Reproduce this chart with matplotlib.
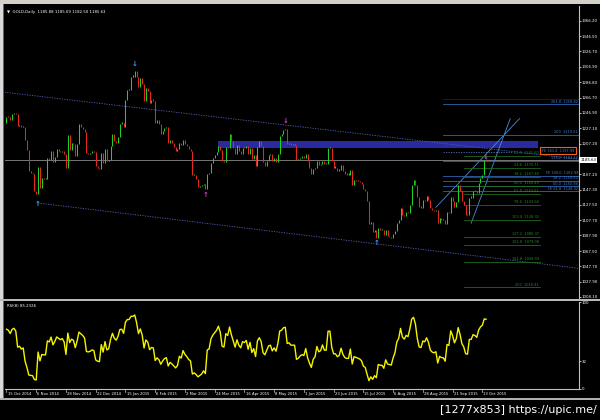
import numpy as np
import matplotlib
matplotlib.use("Agg")
import matplotlib.pyplot as plt
from matplotlib.patches import Rectangle

# GOLD daily closes, 15 Oct 2014 .. 15 Oct 2015 (no bars on 25 Dec, 1 Jan, 3 Apr)
warmup = [1214, 1215, 1192, 1207, 1211, 1225, 1223, 1222, 1229, 1234]
closes = [
    # Oct 2014
    1242, 1241, 1238, 1245, 1247, 1245, 1230, 1231, 1228, 1229, 1212, 1199, 1171,
    # Nov
    1169, 1168, 1145, 1142, 1177, 1150, 1162, 1161, 1161, 1188, 1186, 1197, 1183, 1190,
    1200, 1198, 1196, 1198, 1194, 1175,
    # Dec
    1218, 1199, 1208, 1206, 1191, 1206, 1232, 1229, 1226, 1222, 1195, 1194, 1195, 1197,
    1196, 1178, 1175, 1174, 1195, 1182, 1200, 1184,
    # Jan 2015
    1186, 1204, 1219, 1211, 1208, 1216, 1233, 1234, 1229, 1264, 1277, 1277, 1294, 1294,
    1301, 1293, 1280, 1292, 1284, 1262, 1279,
    # Feb
    1275, 1260, 1264, 1263, 1234, 1238, 1233, 1220, 1224, 1227, 1228, 1208, 1212, 1208,
    1203, 1198, 1200, 1208, 1205, 1212,
    # Mar
    1207, 1204, 1200, 1198, 1166, 1167, 1161, 1151, 1152, 1153, 1155, 1148, 1168, 1169,
    1182, 1188, 1192, 1196, 1204, 1199, 1184, 1183,
    # Apr
    1203, 1201, 1219, 1210, 1202, 1193, 1205, 1197, 1193, 1202, 1201, 1204, 1193, 1202,
    1187, 1192, 1178, 1203, 1210, 1204, 1183,
    # May
    1178, 1185, 1192, 1193, 1184, 1188, 1183, 1193, 1217, 1219, 1225, 1226, 1207, 1208,
    1205, 1205, 1205, 1186, 1187, 1189, 1190,
    # Jun
    1189, 1194, 1184, 1176, 1168, 1174, 1176, 1185, 1179, 1180, 1185, 1180, 1180, 1201,
    1201, 1185, 1176, 1176, 1172, 1173, 1179, 1172,
    # Jul
    1168, 1167, 1167, 1173, 1154, 1160, 1159, 1158, 1157, 1155, 1148, 1146, 1132, 1103,
    1106, 1092, 1095, 1085, 1097, 1095, 1095, 1088, 1095,
    # Aug
    1087, 1086, 1085, 1090, 1094, 1104, 1108, 1123, 1115, 1113, 1118, 1117, 1128, 1153,
    1160, 1154, 1138, 1125, 1124, 1134, 1133,
    # Sep
    1139, 1134, 1124, 1121, 1120, 1121, 1104, 1110, 1108, 1108, 1103, 1118, 1117, 1138,
    1133, 1125, 1131, 1153, 1145, 1132, 1127, 1115,
    # Oct
    1114, 1137, 1137, 1146, 1145, 1143, 1156, 1163, 1167, 1185.9, 1185.63,
]

date_labels = ["15 Oct 2014", "6 Nov 2014", "28 Nov 2014", "22 Dec 2014", "15 Jan 2015",
               "6 Feb 2015", "2 Mar 2015", "24 Mar 2015", "16 Apr 2015", "8 May 2015",
               "1 Jun 2015", "23 Jun 2015", "15 Jul 2015", "6 Aug 2015", "28 Aug 2015",
               "21 Sep 2015", "13 Oct 2015"]
date_bars = list(range(0, 257, 16))

price_ticks = [1366.20, 1346.50, 1326.70, 1306.90, 1286.80, 1266.70, 1246.90, 1227.10,
               1207.20, 1167.20, 1147.30, 1127.50, 1107.70, 1087.90, 1067.50, 1047.70,
               1027.90, 1008.10]
last_price = 1185.63

# channel lines (bar, price)
upper_chan = [(0, 1273.4), (150, 1231.2)]
lower_chan = [(17, 1130.0), (199, 1077.0)]
zone = (114, 286, 1202.0, 1211.0)   # bar from, bar to, low, high

# fractal arrows (bar, price, direction)
blue_arrows = [(69, 1311, "down"), (17, 1129, "up"), (199, 1078, "up")]
pink_arrows = [(107, 1141, "up"), (150, 1237, "down"), (258, 1190, "down")]

# fibo levels
blue_fib = [(1258.0, "261.8  1258.82"), (1218.8, "200  1219.51"), (1185.0, "138.2  1184.60"),
            (1165.5, "FE 100.0  1162.99"), (1159.0, "38.2  1159.50"),
            (1152.0, "50.0  1150.98"), (1145.0, "FE 61.8  1148.32")]
green_fib = [(1191.6, "61.8  1191.60"), (1175.7, "23.6  1175.71"), (1164.0, "38.2  1167.38"),
             (1152.5, "50.0  1160.49"), (1142.0, "61.8  1153.61"), (1128.0, "78.6  1143.04"),
             (1108.5, "100.0  1128.32"), (1086.5, "127.2  1086.37"), (1076.0, "161.8  1079.08"),
             (1054.0, "161.8  1049.93"), (1020.5, "200  1018.91")]
fe_box = (1197.99, "FE 161.8  1197.99")
dim_level = 1265.4
dotted_level = (235, 272, 1195.6)
trend_lines = [[(231, 1124.4), (276, 1239.5)], [(250, 1103.8), (271, 1239.5)]]

# ---------------------------------------------------------------------------
c = np.array(closes, float)
allc = np.array(warmup + closes, float)
o = allc[len(warmup) - 1:-1]
n = len(c)
bars = np.arange(n)

period = 8
d = np.diff(allc)
up = np.clip(d, 0, None)
dn = np.clip(-d, 0, None)
ag = up[:period].mean()
al = dn[:period].mean()
rsi = []
for i in range(period, len(d)):
    ag = (ag * (period - 1) + up[i]) / period
    al = (al * (period - 1) + dn[i]) / period
    rsi.append(100 - 100 / (1 + ag / al))
rsi = np.array(rsi[-n:])

fig = plt.figure(figsize=(6, 4.2), dpi=100, facecolor="black")
W, H = 600.0, 420.0
ax = fig.add_axes([5 / W, 1 - 298 / H, 574 / W, 292 / H], facecolor="black")
rax = fig.add_axes([5 / W, 1 - 389 / H, 574 / W, 87 / H], facecolor="black")

xmax = 308
for a in (ax, rax):
    a.set_xlim(-0.8, xmax)
    for s in a.spines.values():
        s.set_visible(False)
    a.spines["right"].set_visible(True)
    a.spines["right"].set_color("#c0c0c0")
    a.spines["right"].set_linewidth(0.8)
    a.set_xticks([])
    a.yaxis.tick_right()
    a.tick_params(axis="y", colors="white", labelsize=2.8, length=1.2, width=0.5, pad=0.8)

ax.set_ylim(1006.8, 1385.6)
ax.set_yticks(price_ticks)
ax.set_yticklabels(["%.2f" % v for v in price_ticks])

# candles
lo = np.minimum(o, c)
hi = np.maximum(o, c)
hi = np.maximum(hi, lo + 1.5)
cols = np.where(c >= o, "#1fd21f", "#e8281e")
ax.vlines(bars, lo, hi, colors=cols, linewidth=0.75, zorder=3)

# current price line
ax.axhline(last_price, color="#8a8a8a", linewidth=0.6)
ax.text(1.002, last_price, "%.2f" % last_price, transform=ax.get_yaxis_transform(),
        fontsize=2.8, color="black", va="center", ha="left",
        bbox=dict(boxstyle="square,pad=0.2", fc="white", ec="none"))

# channel
def extend(p, x0, x1):
    (a0, b0), (a1, b1) = p
    k = (b1 - b0) / (a1 - a0)
    return [x0, x1], [b0 + k * (x0 - a0), b0 + k * (x1 - a0)]

xs, ys = extend(upper_chan, -1, xmax)
ax.plot(xs, ys, color="#5060b8", linewidth=0.6, linestyle=(0, (1.5, 1.5)))
xs, ys = extend(lower_chan, lower_chan[0][0], xmax)
ax.plot(xs, ys, color="#5060b8", linewidth=0.6, linestyle=(0, (1.5, 1.5)))

ax.add_patch(Rectangle((zone[0], zone[2]), zone[1] - zone[0], zone[3] - zone[2],
                       facecolor="#2a2aa0", edgecolor="none", zorder=1))

ax.plot([235, xmax], [dim_level, dim_level], color="#3a1414", linewidth=0.6)
ax.plot(dotted_level[:2], [dotted_level[2]] * 2, color="#5a6ab0", linewidth=0.6,
        linestyle=(0, (1.5, 1.5)))

for pts in trend_lines:
    ax.plot([p[0] for p in pts], [p[1] for p in pts], color="#4a8ad8", linewidth=0.6)

for pr, lab in blue_fib:
    ax.plot([235, xmax], [pr, pr], color="#2f64b0", linewidth=0.6)
    ax.text(xmax - 0.5, pr + 0.5, lab, color="#3f7fd0", fontsize=2.5, ha="right", va="bottom")
for pr, lab in green_fib:
    ax.plot([246, 287], [pr, pr], color="#1f6a1f", linewidth=0.6)
    ax.text(286.5, pr + 0.5, lab, color="#2a8a2a", fontsize=2.5, ha="right", va="bottom")

ax.text(288, fe_box[0], fe_box[1], color="#3f7fd0", fontsize=2.5, ha="left", va="center",
        bbox=dict(boxstyle="square,pad=0.5", fc="black", ec="#e8641e", lw=0.8))

for b, p, dr in blue_arrows:
    ax.text(b, p, "\u2193" if dr == "down" else "\u2191", color="#3aa0ff", fontsize=5,
            ha="center", va="center", fontweight="bold")
for b, p, dr in pink_arrows:
    ax.text(b, p, "\u2193" if dr == "down" else "\u2191", color="#d040d0", fontsize=5,
            ha="center", va="center", fontweight="bold")

ax.text(0.004, 0.985, "\u25bc  GOLD,Daily  1185.88 1185.69 1182.50 1185.63", transform=ax.transAxes,
        color="white", fontsize=2.8, va="top", ha="left")

# RSI
rax.plot(bars, rsi, color="#f5f500", linewidth=1.0)
rax.set_ylim(0, 100)
rax.set_yticks([100, 32, 0])
rax.set_yticklabels(["100", "32", "0"])
rax.spines["bottom"].set_visible(True)
rax.spines["bottom"].set_color("#c0c0c0")
rax.spines["bottom"].set_linewidth(0.8)
rax.text(0.004, 0.98, "RSI(8) 85.2326", transform=rax.transAxes, color="white",
         fontsize=2.8, va="top", ha="left")

for b, lab in zip(date_bars, date_labels):
    rax.text(b + 0.6, -4, lab, color="white", fontsize=2.7, ha="left", va="top", clip_on=False)
    rax.plot([b, b], [0, -3], color="#c0c0c0", linewidth=0.5, clip_on=False)

# frame pieces of the screenshot
fig.patches.append(Rectangle((0, 1 - 4 / H), 1, 4 / H, transform=fig.transFigure,
                             facecolor="#d4d0c8", edgecolor="none"))
fig.patches.append(Rectangle((0, 1 - 398 / H), 2.5 / W, 394 / H, transform=fig.transFigure,
                             facecolor="#d8d8d8", edgecolor="none"))
fig.patches.append(Rectangle((2.5 / W, 1 - 398 / H), 1.5 / W, 394 / H, transform=fig.transFigure,
                             facecolor="#3a6ea8", edgecolor="none"))
fig.patches.append(Rectangle((0, 1 - 301 / H), 1, 2 / H, transform=fig.transFigure,
                             facecolor="#b8b8b8", edgecolor="none"))
fig.patches.append(Rectangle((0, 1 - 399.5 / H), 1, 1.5 / H, transform=fig.transFigure,
                             facecolor="#b0b0b0", edgecolor="none"))

fig.text(0.995, 0.012, "[1277x853] https://upic.me/", color="white", fontsize=8,
         ha="right", va="bottom")

fig.savefig("out.png", dpi=100, facecolor="black")
